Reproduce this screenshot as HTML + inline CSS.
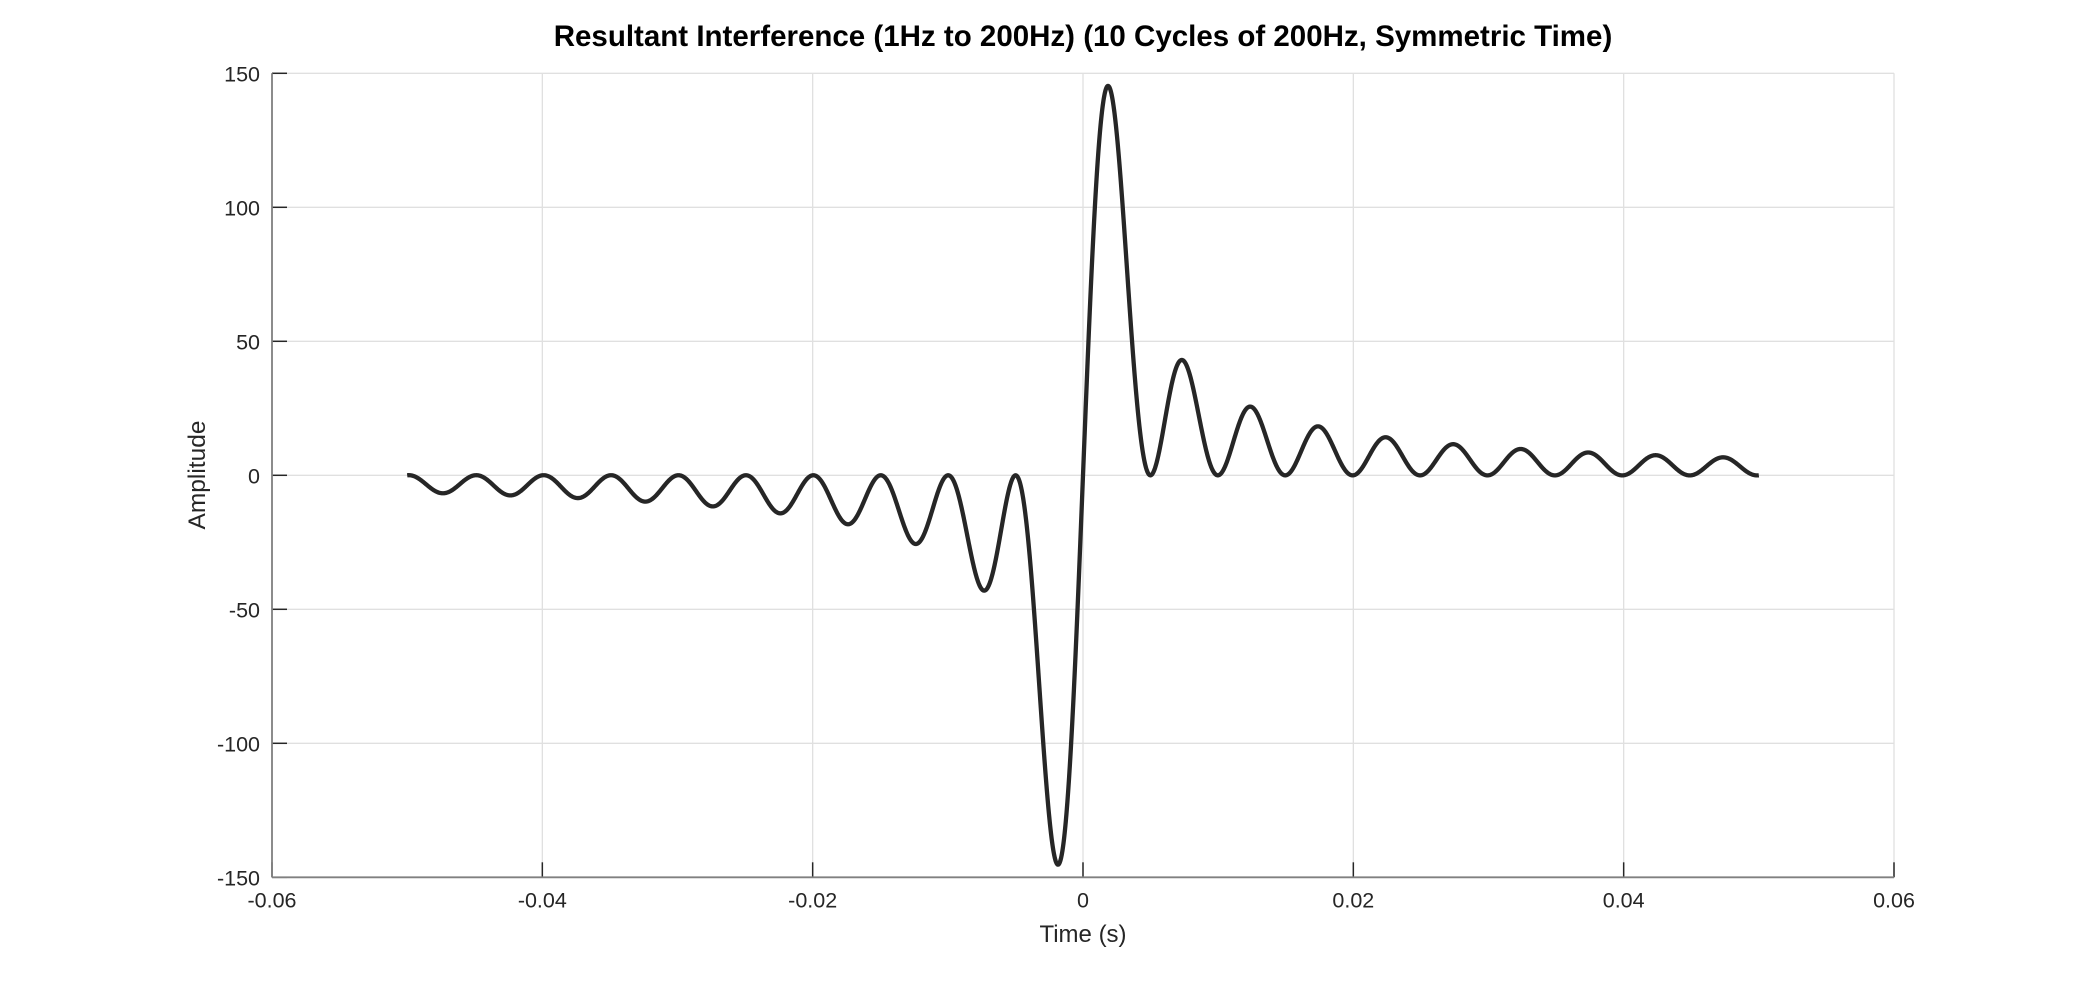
<!DOCTYPE html>
<html><head><meta charset="utf-8"><style>
html,body{margin:0;padding:0;background:#fff;}
svg{display:block;font-family:"Liberation Sans",sans-serif;}
</style></head><body>
<svg id="s" width="2092" height="985" viewBox="0 0 2092 985" xmlns="http://www.w3.org/2000/svg">
<rect width="2092" height="985" fill="#fff"/>
<g id="grid" stroke="#e0e0e0" stroke-width="1.3"></g>
<g id="axes"></g>
<path id="curve" fill="none" stroke="#262626" stroke-width="4.3" stroke-linejoin="round"/>
<text x="1083" y="46" text-anchor="middle" font-size="29.5" font-weight="bold" fill="#000">Resultant Interference (1Hz to 200Hz) (10 Cycles of 200Hz, Symmetric Time)</text>
<text x="1083" y="942" text-anchor="middle" font-size="24" fill="#262626">Time (s)</text>
<text transform="translate(205,475) rotate(-90)" text-anchor="middle" font-size="24.5" fill="#262626">Amplitude</text>
</svg>
<script>
var L=272,R=1894,T=73.3,B=877.3;
function X(t){return L+(t+0.06)/0.12*(R-L);}
function Y(v){return T+(150-v)/300*(B-T);}
var ns="http://www.w3.org/2000/svg";
var g=document.getElementById('grid'),a=document.getElementById('axes');
function el(p,tag,at,txt){var e=document.createElementNS(ns,tag);for(var k in at)e.setAttribute(k,at[k]);if(txt!=null)e.textContent=txt;p.appendChild(e);return e;}
var xt=[-0.06,-0.04,-0.02,0,0.02,0.04,0.06],xl=["-0.06","-0.04","-0.02","0","0.02","0.04","0.06"];
for(var i=0;i<xt.length;i++){var x=X(xt[i]);
 el(g,'line',{x1:x,y1:T,x2:x,y2:B});
 el(a,'line',{x1:x,y1:B,x2:x,y2:B-15,stroke:'#262626','stroke-width':1.5});
 el(a,'text',{x:x,y:B+30,'text-anchor':'middle','font-size':21.5,fill:'#262626'},xl[i]);}
var yt=[150,100,50,0,-50,-100,-150];
for(var i=0;i<yt.length;i++){var y=Y(yt[i]);
 el(g,'line',{x1:L,y1:y,x2:R,y2:y});
 el(a,'line',{x1:L,y1:y,x2:L+15,y2:y,stroke:'#262626','stroke-width':1.5});
 el(a,'text',{x:L-12,y:y+8,'text-anchor':'end','font-size':21.5,fill:'#262626'},String(yt[i]));}
el(a,'line',{x1:L,y1:T,x2:L,y2:B,stroke:'#808080','stroke-width':1.8});
el(a,'line',{x1:L,y1:B,x2:R,y2:B,stroke:'#808080','stroke-width':1.8});
var d="",N=4000;
for(var i=0;i<=N;i++){var t=-0.05+0.1*i/N,s=0;
 for(var f=1;f<=200;f++)s+=Math.sin(2*Math.PI*f*t);
 d+=(i?"L":"M")+X(t).toFixed(2)+" "+Y(s).toFixed(2);}
document.getElementById('curve').setAttribute('d',d);
</script>
</body></html>
